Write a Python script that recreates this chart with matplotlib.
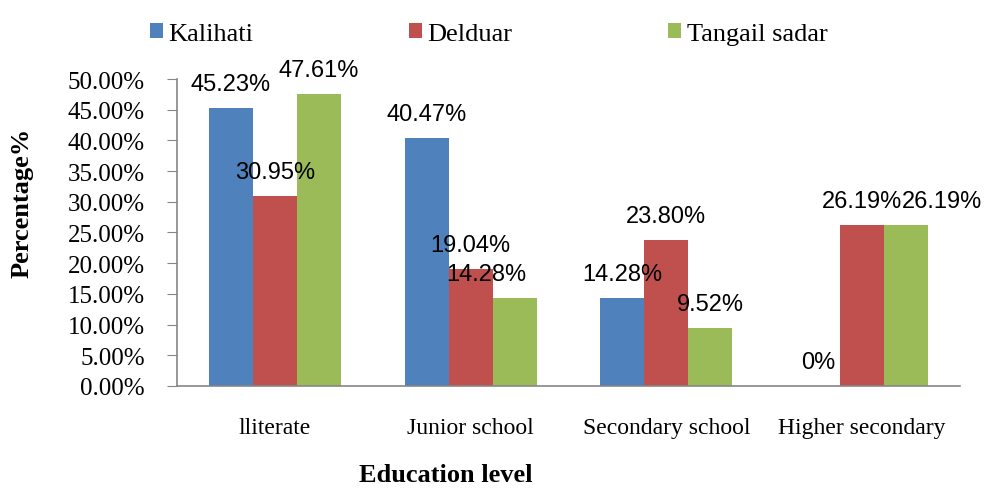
import matplotlib.pyplot as plt
import numpy as np
from matplotlib.ticker import PercentFormatter

categories = ['lliterate', 'Junior school', 'Secondary school', 'Higher secondary']
series_names = ['Kalihati', 'Delduar', 'Tangail sadar']
kalihati = [45.23, 40.47, 14.28, 0.0]
delduar = [30.95, 19.04, 23.80, 26.19]
tangail = [47.61, 14.28, 9.52, 26.19]
colors = ['#4F81BD', '#C0504D', '#9BBB59']

plt.rcParams['font.family'] = ['Liberation Serif', 'DejaVu Serif']
sans = 'Liberation Sans'

fig = plt.figure(figsize=(9.86, 4.89), dpi=100)
ax = fig.add_axes([0.1795, 0.2086, 0.794, 0.6278])

x = np.arange(len(categories))
w = 0.225
for i, (vals, name, c) in enumerate(zip([kalihati, delduar, tangail], series_names, colors)):
    pos = x + (i - 1) * w
    ax.bar(pos, vals, w, color=c, label=name, linewidth=0)
    for j, (p, v) in enumerate(zip(pos, vals)):
        txt = '0%' if v == 0 else f'{v:.2f}%'
        dx = 0
        # a couple of labels were nudged in the original
        if i == 2 and j == 1:
            dx = -28
        if i == 2 and j == 3:
            dx = 36
        ax.annotate(txt, (p, v), xytext=(dx, 13), textcoords='offset pixels',
                    ha='center', va='bottom', fontsize=17, family=sans)

ax.set_xlim(-0.5, 3.5)
ax.set_ylim(0, 50)
ax.set_yticks(np.arange(0, 50.1, 5))
ax.yaxis.set_major_formatter(PercentFormatter(decimals=2))
ax.set_xticks(x)
ax.set_xticklabels(categories, fontsize=17)
for t in ax.get_yticklabels():
    t.set_fontsize(18)
ax.tick_params(axis='x', length=0, pad=22)
ax.tick_params(axis='y', length=7, color='#868686', pad=16)
for s in ['top', 'right']:
    ax.spines[s].set_visible(False)
for s in ['left', 'bottom']:
    ax.spines[s].set_color('#868686')
    ax.spines[s].set_linewidth(1.2)

ax.set_ylabel('Percentage%', fontsize=19, fontweight='bold', va='center')
ax.yaxis.set_label_coords(-0.198, 0.6)
ax.set_xlabel('Education level', fontsize=19, fontweight='bold')
ax.xaxis.set_label_coords(0.3436, -0.252)

fig.legend(loc='upper left', bbox_to_anchor=(0.128, 1.0), ncol=3, frameon=False,
           prop={'size': 19}, handlelength=0.5, handleheight=0.5,
           handletextpad=0.2, columnspacing=5.9)

fig.savefig('out.png', dpi=100)
